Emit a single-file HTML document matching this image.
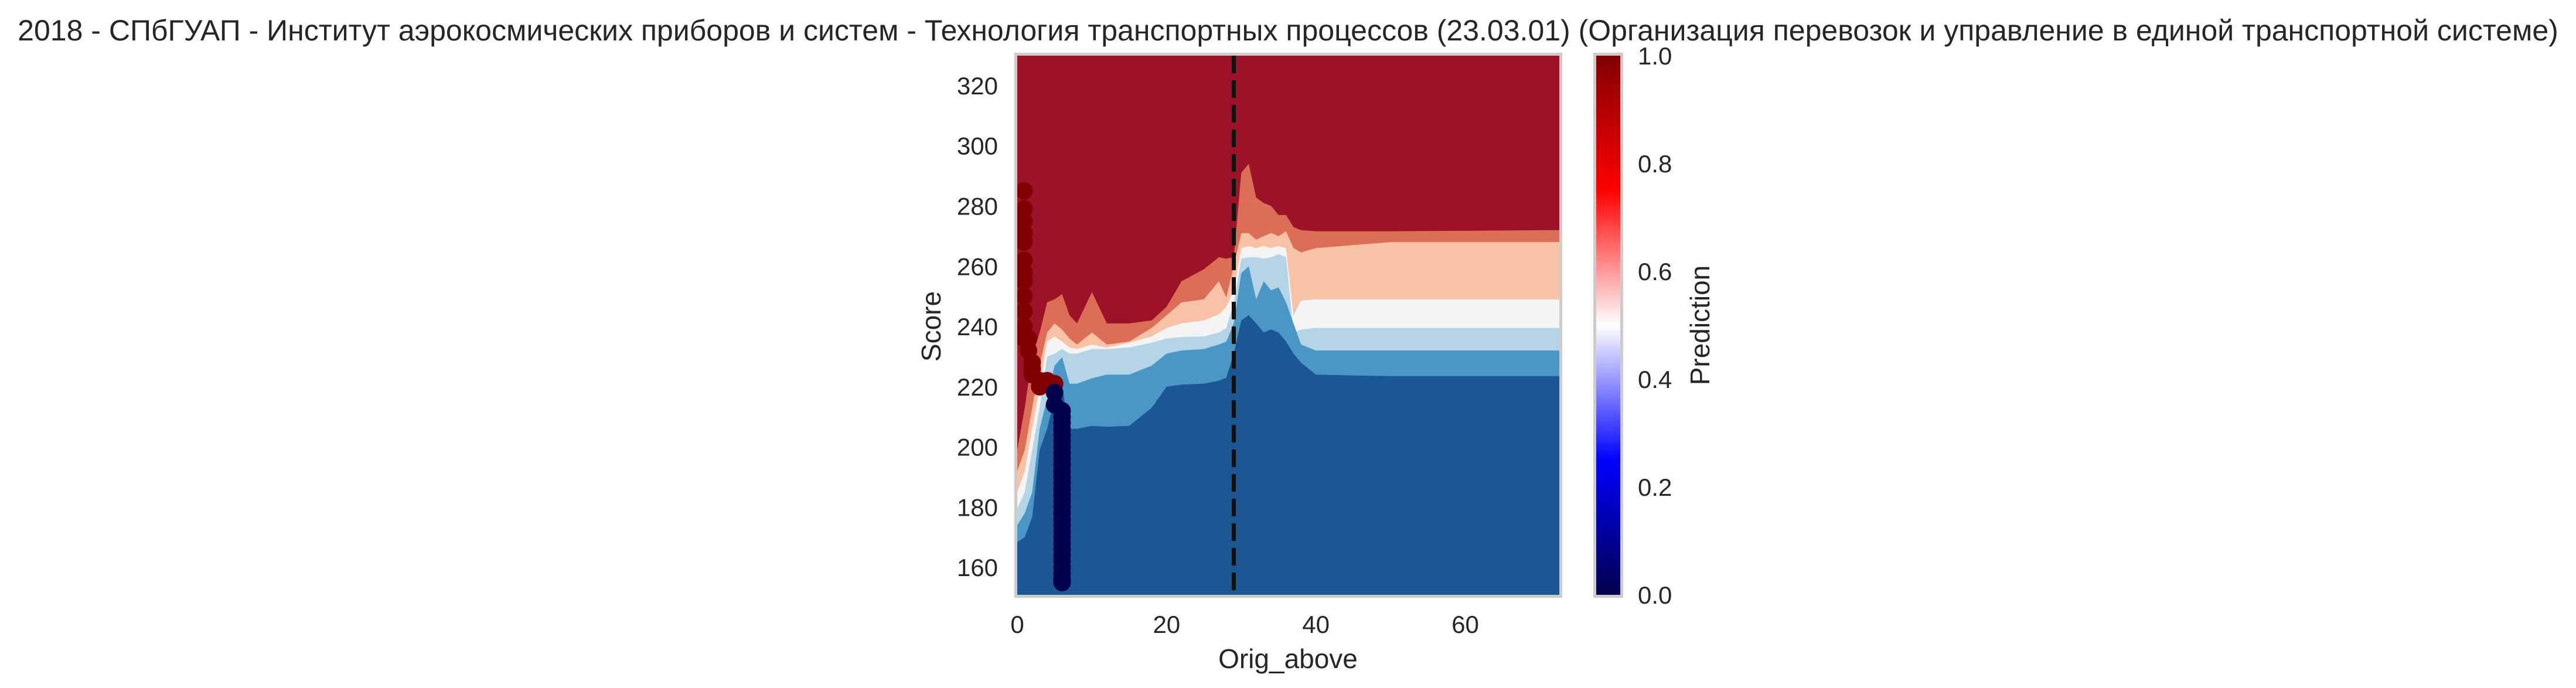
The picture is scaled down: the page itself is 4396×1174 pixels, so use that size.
<!DOCTYPE html>
<html><head><meta charset="utf-8"><style>
html,body{margin:0;padding:0;background:#fff;}
svg{display:block;font-family:"Liberation Sans",sans-serif;}
</style></head><body>
<svg id="chart" width="4396" height="1174" viewBox="0 0 4396 1174">
<defs>
<linearGradient id="seis" x1="0" y1="1" x2="0" y2="0">
<stop offset="0" stop-color="#00004c"/><stop offset="0.25" stop-color="#0000ff"/>
<stop offset="0.5" stop-color="#ffffff"/><stop offset="0.75" stop-color="#ff0000"/>
<stop offset="1" stop-color="#800000"/></linearGradient>
<clipPath id="pc"><rect x="1736" y="95" width="925" height="920"/></clipPath>
</defs>
<text x="2198" y="69" font-size="50" text-anchor="middle" fill="#262626">2018 - СПбГУАП - Институт аэрокосмических приборов и систем - Технология транспортных процессов (23.03.01) (Организация перевозок и управление в единой транспортной системе)</text>
<g id="plot" clip-path="url(#pc)"></g>
<rect x="1733.5" y="92.5" width="930" height="925" fill="none" stroke="#cccccc" stroke-width="5"/>
<g id="axes"></g>
<text x="1593" y="557" font-size="46" text-anchor="middle" fill="#262626" transform="rotate(-90 1593 557)" dominant-baseline="middle">Score</text>
<text x="2198" y="1140" font-size="46" text-anchor="middle" fill="#262626">Orig_above</text>
<rect x="2724" y="95" width="41" height="920" fill="url(#seis)"/>
<rect x="2721.5" y="92.5" width="46" height="925" fill="none" stroke="#cccccc" stroke-width="5"/>
<g id="cbticks"></g>
<text x="2905" y="555" font-size="46" text-anchor="middle" fill="#262626" transform="rotate(-90 2905 555)" dominant-baseline="middle">Prediction</text>
</svg>
<script>
const xGrid=[0,1,2,3,4,5,6,7,8,10,12,15,18,20,22,25,27,28,29,30,31,32,33,34,35,36,37,38,40,50,72.6];
const b1=[168.4,170,176.8,199,206,216,220,206,206,207,206.7,207,213,220,220.7,221,222,223,231,242,243.7,241,238,239,238,235,231,228,224,223.5,223.5];
const b2=[174,178,185,206,216,227,229.8,221,221,222.8,224,224,227,231,232,232.5,234,235,241,257.7,260,249,255,252,253,248,241,234,232,232,232];
const b3=[179.6,185,199,213,230,231,232.5,231,231,232.5,232.5,233,234.6,236,236.5,236.7,238,239.5,248,262.5,263,263,262.5,263,264,263,238,239,239.5,239.5,239.5];
const b4=[185,192,206,220,235,236.7,235,233,232.5,234,233,234.6,236.7,239.5,241,242,244,246.5,252,266,266.7,266,266.7,266,266.7,266,243.7,248.6,249,249,249];
const b5=[192,199,213,227,238,241,239,236,234,238,234,235,239.5,243.7,248,249,255,249.6,260,271,271,268.8,270,271,270,271.6,266,264.6,266,268,268];
const b6=[199,213,230,238,248,249,250.7,243.7,241,251.4,241,241,242,246.5,255,259,263,262.5,263,291,294,282.8,281,280,277,277,273,272,271.6,271.6,272];
const redX=[0.9,0.9,0.9,0.9,0.9,0.9,0.9,0.9,0.9,0.9,0.9,0.9,1.5,1.5,2,2,2,3,3,4,5];
const redY=[285,279,275,271,268,262,258,255,250,245,240,236,236,232,228,226,224,222,220,222,221];
const navyX=[5,5,6,6,6,6,6,6,6,6,6,6,6,6,6,6,6,6,6,6,6,6,6,6,6,6,6,6,6,6,6,6];
const navyY=[218,214,212,210,208,206,204,202,200,198,196,194,192,190,188,186,184,182,180,178,176,174,172,170,168,166,164,162,160,158,156,155];
const xTicks=[0,20,40,60];
const yTicks=[160,180,200,220,240,260,280,300,320];
const cTicks=[0,0.2,0.4,0.6,0.8,1.0];
const cutX=29;
const X0=1736,X1=2661,Y0=1015,Y1=95,xmin=0,xmax=72.6,ymin=150.9,ymax=329.9;
const sx=v=>X0+(v-xmin)/(xmax-xmin)*(X1-X0);
const sy=v=>Y0-(v-ymin)/(ymax-ymin)*(Y0-Y1);
const NS="http://www.w3.org/2000/svg";
function mk(tag,attrs,parent){const e=document.createElementNS(NS,tag);for(const k in attrs)e.setAttribute(k,attrs[k]);parent.appendChild(e);return e;}
const plot=document.getElementById('plot');
const bg=mk('rect',{x:X0,y:Y1,width:X1-X0,height:Y0-Y1,fill:'#9c1229'},plot);


const bands=[[b6,'#dc6e57','band-0.8'],[b5,'#f7c2a6','band-0.6'],[b4,'#f4f4f4','band-0.5'],[b3,'#b5d5e7','band-0.4'],[b2,'#4a96c4','band-0.3'],[b1,'#1c5795','band-0.2']];
bands.forEach(([b,c,n])=>{
  let d='M'+sx(xGrid[0])+','+(Y0+5);
  xGrid.forEach((x,i)=>{d+=' L'+sx(x)+','+sy(b[i]);});
  d+=' L'+sx(xGrid[xGrid.length-1])+','+(Y0+5)+' Z';
  const p=mk('path',{d:d,fill:c},plot);
  
  
});
const ln=mk('line',{x1:sx(cutX),x2:sx(cutX),y1:Y1,y2:Y0,stroke:'#111',"stroke-width":7,"stroke-dasharray":"30,12"},plot);


redX.forEach((x,i)=>{const c=mk('circle',{cx:sx(x),cy:sy(redY[i]),r:15,fill:'#800000'},plot);

});
navyX.forEach((x,i)=>{const c=mk('circle',{cx:sx(x),cy:sy(navyY[i]),r:15,fill:'#00004c'},plot);

});
const ax=document.getElementById('axes');
xTicks.forEach(v=>{const t=mk('text',{x:sx(v),y:1080,"font-size":42,"text-anchor":"middle",fill:'#262626'},ax);t.textContent=v;

});
yTicks.forEach(v=>{const t=mk('text',{x:1703,y:sy(v)+15,"font-size":42,"text-anchor":"end",fill:'#262626'},ax);t.textContent=v;

});
const cb=document.getElementById('cbticks');
cTicks.forEach(v=>{const t=mk('text',{x:2795,y:Y0-v*(Y0-Y1)+15,"font-size":42,fill:'#262626'},cb);t.textContent=v.toFixed(1);

});
</script>
</body></html>
